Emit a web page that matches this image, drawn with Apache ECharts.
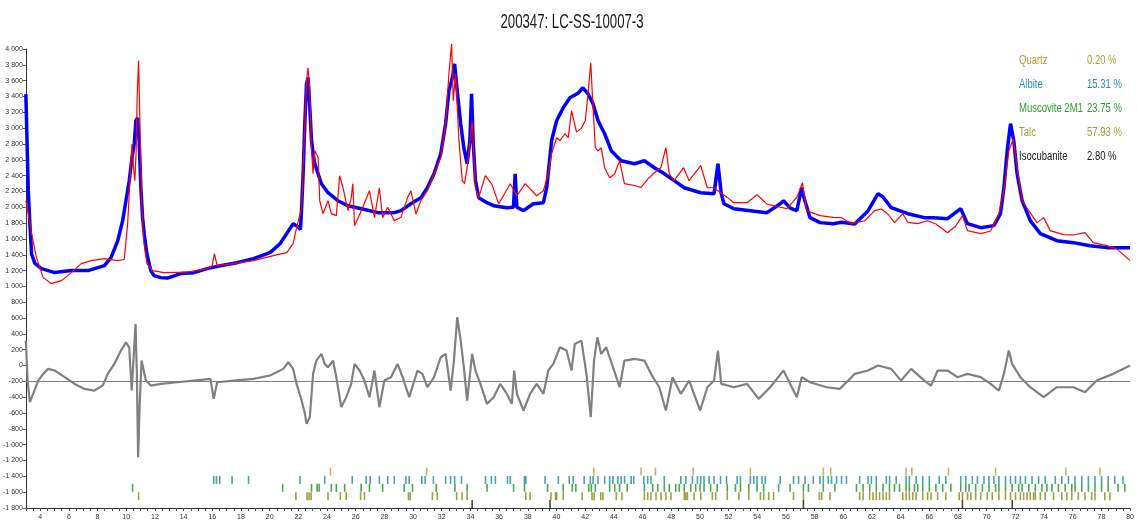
<!DOCTYPE html>
<html>
<head>
<meta charset="utf-8">
<script src="https://cdn.jsdelivr.net/npm/echarts@6/dist/echarts.min.js"></script>
<style>
  html, body { margin: 0; padding: 0; background: #fff; }
  #chart { width: 1137px; height: 526px; }
</style>
</head>
<body>
<div id="chart"></div>
<script>
// Rietveld refinement plot, sample 200347 (Co radiation), pairs of [2θ, counts]

// observed pattern
const observed = [
  [3.00,3430],[3.17,2210],[3.28,1790],[3.40,1410],[3.63,1290],[4.09,1225],[5.01,1175],[6.17,1200],
  [7.33,1200],[8.48,1262],[8.94,1364],[9.41,1578],[9.75,1831],[9.98,2083],[10.21,2336],[10.40,2626],
  [10.56,2803],[10.67,3093],[10.79,3131],[10.90,2840],[11.02,2247],[11.14,1869],[11.25,1667],[11.44,1414],
  [11.71,1200],[11.94,1136],[12.41,1111],[12.87,1105],[13.79,1162],[14.71,1174],[15.64,1225],[16.56,1262],
  [17.72,1300],[18.87,1351],[20.03,1427],[20.72,1540],[21.19,1667],[21.64,1793],[21.99,1750],[22.15,1720],
  [22.23,1995],[22.34,2450],[22.45,3050],[22.57,3560],[22.68,3640],[22.80,3260],[22.92,2840],[23.03,2680],
  [23.15,2550],[23.38,2424],[23.61,2298],[24.07,2184],[24.76,2083],[25.46,2020],[26.39,1982],[27.54,1932],
  [28.69,1932],[29.16,1957],[29.85,2045],[30.54,2121],[31.00,2247],[31.46,2424],[31.93,2677],[32.27,3056],
  [32.50,3472],[32.74,3636],[32.90,3813],[33.08,3472],[33.32,3056],[33.54,2753],[33.77,2550],[33.96,2840],
  [34.08,3434],[34.19,2840],[34.35,2336],[34.58,2121],[35.15,2058],[35.62,2020],[36.54,1995],[37.00,2000],
  [37.12,2424],[37.24,2000],[37.70,1957],[38.39,2045],[39.09,2058],[39.32,2247],[39.66,2840],[40.01,3093],
  [40.47,3258],[40.94,3384],[41.50,3440],[41.84,3510],[42.20,3434],[42.55,3308],[42.90,3093],[43.36,2929],
  [43.82,2715],[44.51,2588],[45.44,2550],[46.13,2588],[46.83,2500],[47.52,2424],[48.21,2336],[48.91,2247],
  [50.06,2184],[50.99,2172],[51.26,2550],[51.49,2172],[51.68,2045],[52.37,1982],[53.52,1957],[54.68,1932],
  [55.60,2045],[55.83,2083],[56.30,1990],[56.76,1957],[57.10,2247],[57.26,2120],[57.68,1869],[58.38,1806],
  [59.30,1793],[59.88,1810],[60.80,1790],[61.73,1957],[62.42,2172],[62.77,2130],[63.34,1995],[64.50,1919],
  [65.65,1869],[66.35,1869],[67.27,1856],[68.19,1982],[68.66,1793],[69.58,1742],[70.50,1768],[70.96,1919],
  [71.20,2247],[71.43,2715],[71.66,3056],[71.89,2840],[72.12,2424],[72.47,2083],[73.04,1831],[73.74,1667],
  [74.89,1578],[76.05,1553],[77.20,1515],[78.36,1490],[80.00,1490]
];

// calculated pattern
const calculated = [
  [3.00,2083],[3.17,1919],[3.40,1667],[3.74,1364],[4.21,1111],[4.78,1035],[5.48,1073],[6.17,1174],
  [6.86,1288],[7.56,1326],[8.48,1351],[9.41,1326],[9.86,1340],[10.10,1793],[10.28,2424],[10.40,2803],
  [10.51,2500],[10.60,2336],[10.69,2700],[10.76,3384],[10.86,3851],[10.95,3093],[11.07,2083],[11.21,1578],
  [11.44,1288],[11.83,1200],[12.63,1174],[14.26,1180],[15.64,1225],[15.99,1262],[16.15,1414],[16.34,1262],
  [17.49,1288],[18.87,1326],[20.26,1389],[21.19,1427],[21.64,1540],[21.88,1742],[22.23,1995],[22.41,2840],
  [22.57,3598],[22.68,3763],[22.80,3472],[22.92,2715],[23.03,2424],[23.15,2715],[23.38,2630],[23.49,2083],
  [23.72,1919],[24.07,2083],[24.30,1919],[24.65,1895],[24.88,2399],[25.11,2250],[25.46,1957],[25.69,2125],
  [25.80,2298],[25.92,1768],[26.39,1957],[26.96,2210],[27.31,1869],[27.65,2247],[27.88,1869],[28.23,1999],
  [28.69,1831],[29.16,1873],[29.62,2125],[29.85,2210],[30.20,1915],[30.54,2083],[31.00,2210],[31.46,2420],
  [31.93,2630],[32.27,3050],[32.50,3687],[32.69,4066],[32.80,3346],[32.97,3687],[33.20,2840],[33.43,2336],
  [33.59,2298],[33.77,2500],[34.12,3093],[34.35,2247],[34.58,2121],[35.04,2399],[35.50,2290],[35.97,2045],
  [36.78,2298],[37.24,2146],[37.82,2298],[38.62,2146],[39.09,2210],[39.43,2424],[39.66,2677],[40.01,2879],
  [40.24,2841],[40.59,2929],[40.82,2879],[41.05,3220],[41.40,2950],[41.74,3000],[42.01,3093],[42.20,3430],
  [42.39,3826],[42.55,3262],[42.71,2753],[42.90,2710],[43.12,2753],[43.36,2500],[43.71,2374],[44.05,2420],
  [44.40,2588],[44.74,2298],[45.44,2275],[45.90,2250],[46.36,2356],[46.83,2437],[47.28,2500],[47.63,2753],
  [47.87,2420],[48.21,2336],[48.86,2500],[49.25,2336],[50.06,2525],[50.52,2247],[50.99,2247],[51.44,2184],
  [51.91,2125],[52.37,2058],[53.29,2058],[53.99,2159],[54.68,2040],[55.37,2010],[56.07,1982],[56.76,2125],
  [57.15,2311],[57.45,1957],[58.38,1894],[59.30,1873],[59.88,1869],[60.57,1793],[61.49,1830],[62.18,1957],
  [62.65,1978],[63.11,1915],[63.57,1806],[64.15,1919],[64.50,1810],[65.19,1793],[65.88,1830],[66.46,1789],
  [67.27,1679],[67.84,1764],[68.31,1894],[68.66,1705],[69.58,1667],[70.27,1700],[70.85,1919],[71.20,2210],
  [71.54,2715],[71.85,2866],[72.12,2500],[72.47,2083],[72.93,1957],[73.51,1806],[73.97,1869],[74.43,1705],
  [75.35,1654],[76.05,1650],[76.85,1679],[77.43,1553],[78.36,1515],[79.05,1477],[80.00,1326]
];

// difference curve (offset below the patterns)
const difference = [
  [3.00,315],[3.12,-190],[3.28,-463],[3.51,-358],[3.86,-190],[4.21,-105],[4.55,-42],[5.01,-63],
  [5.71,-147],[6.40,-232],[7.09,-295],[7.78,-316],[8.36,-253],[8.71,-105],[9.17,21],[9.63,189],
  [9.98,294],[10.21,231],[10.38,-316],[10.49,21],[10.65,526],[10.74,-105],[10.83,-1158],[10.93,-526],
  [11.07,63],[11.16,63],[11.37,-190],[11.71,-253],[12.41,-232],[13.56,-211],[14.71,-190],[15.87,-169],
  [16.10,-421],[16.34,-211],[17.49,-190],[18.87,-169],[20.03,-126],[20.95,-42],[21.30,42],[21.64,-42],
  [21.88,-232],[22.23,-442],[22.45,-600],[22.57,-737],[22.80,-653],[23.03,-105],[23.26,63],[23.61,147],
  [23.84,21],[24.07,-21],[24.42,63],[24.65,-147],[24.99,-526],[25.34,-400],[25.69,-232],[25.92,21],
  [26.27,-63],[26.61,-190],[26.96,-400],[27.31,-63],[27.65,-526],[28.00,-190],[28.46,-147],[28.92,21],
  [29.27,-147],[29.73,-400],[30.31,-63],[30.65,-105],[31.00,-274],[31.46,-147],[31.93,105],[32.27,147],
  [32.62,-316],[32.85,63],[33.08,610],[33.32,315],[33.54,-21],[33.77,-442],[34.12,147],[34.35,-63],
  [34.70,-232],[35.15,-484],[35.62,-400],[36.08,-232],[36.54,-358],[36.89,-484],[37.05,-63],[37.24,-358],
  [37.70,-568],[38.16,-358],[38.62,-232],[39.09,-358],[39.43,-63],[39.78,21],[40.24,231],[40.70,189],
  [41.05,-63],[41.28,273],[41.74,315],[42.09,-105],[42.39,-653],[42.62,63],[42.85,357],[43.12,147],
  [43.47,231],[43.94,-21],[44.40,-274],[44.74,63],[45.44,84],[46.13,63],[46.59,-105],[47.17,-274],
  [47.63,-568],[48.10,-147],[48.67,-358],[49.25,-190],[50.02,-568],[50.52,-274],[50.99,-190],[51.26,189],
  [51.49,-232],[52.37,-274],[53.29,-232],[54.10,-421],[54.90,-274],[55.83,-63],[56.76,-400],[57.10,-147],
  [57.68,-211],[58.84,-274],[59.76,-295],[60.57,-147],[60.80,-105],[61.73,-63],[62.42,0],[63.34,-42],
  [64.03,-190],[64.73,-42],[65.65,-190],[66.12,-253],[66.58,-63],[67.27,-63],[67.96,-147],[68.66,-105],
  [69.58,-147],[70.27,-232],[70.85,-316],[71.20,-105],[71.54,189],[71.77,21],[72.35,-147],[73.04,-274],
  [73.97,-400],[74.89,-274],[76.05,-274],[76.85,-337],[77.67,-190],[78.82,-105],[80.00,0]
];

// reflection positions (2θ) for each phase
const quartzPeaks = [24.24,30.95,42.60,45.90,46.90,49.53,53.52,58.61,59.12,64.38,64.78,67.34,70.62,75.52,77.89];
const albitePeaks = [16.10,16.29,16.52,17.38,18.53,22.11,23.84,25.76,26.73,27.01,27.65,28.23,28.69,29.50,29.73,
  30.61,30.84,31.42,32.27,32.62,32.90,33.38,35.05,35.46,35.74,36.59,36.78,37.77,37.86,39.20,40.13,40.89,41.17,
  41.93,42.36,42.55,42.90,43.36,43.71,43.94,44.28,44.51,44.75,45.21,45.39,46.09,46.36,46.59,47.52,48.67,49.02,
  49.48,49.83,50.06,50.29,50.64,50.99,51.44,51.86,52.60,52.83,53.52,53.76,53.99,54.33,54.56,55.60,56.53,56.88,
  57.33,57.91,58.37,58.61,58.95,59.18,59.53,59.88,60.22,61.14,61.73,61.96,62.30,63.00,63.23,63.69,64.38,64.61,
  65.08,65.54,66.00,66.69,67.15,68.19,68.54,69.00,69.35,69.81,70.16,70.50,70.85,71.31,71.66,72.01,72.35,72.70,
  73.16,73.62,74.08,74.78,75.24,75.70,76.16,76.63,77.09,77.55,78.01,78.47,78.93,79.51];
const muscovitePeaks = [10.44,20.91,22.92,23.31,23.45,24.30,24.65,25.23,26.38,26.96,27.88,29.38,29.96,31.62,32.92,
  33.77,35.16,37.01,37.77,39.38,40.47,41.10,41.35,42.25,42.43,42.71,43.71,44.06,44.40,44.93,46.13,46.71,47.06,
  47.52,47.87,48.32,48.56,48.91,49.36,49.71,50.01,50.29,50.75,51.21,51.91,52.48,52.83,53.41,53.99,54.45,55.49,
  56.29,57.22,57.57,58.61,59.41,60.92,61.38,61.84,62.30,62.77,63.22,63.57,63.92,64.38,64.61,64.96,65.19,65.54,
  66.00,66.46,66.93,67.50,68.19,68.54,68.77,69.23,69.70,70.16,70.62,70.85,71.31,71.78,72.23,72.47,72.93,73.39,
  73.85,74.20,74.55,75.00,75.47,75.93,76.16,76.63,77.09,77.55,78.01,78.47,79.16,79.63];
const talcPeaks = [10.86,21.83,22.61,22.75,22.89,24.07,24.93,25.34,26.34,26.61,29.68,29.80,31.35,31.69,33.04,33.42,
  33.77,37.86,38.16,39.62,39.94,40.01,40.47,41.79,42.48,42.62,43.09,43.24,44.17,44.56,46.13,46.36,46.59,46.94,
  47.29,47.63,47.98,48.91,49.02,49.13,49.60,50.06,50.87,51.10,51.91,52.72,53.41,54.22,54.45,54.80,55.14,56.53,
  57.22,58.33,58.49,59.07,61.14,61.38,61.84,62.07,62.30,62.53,62.77,63.00,63.22,64.15,64.38,64.61,64.84,65.08,
  65.54,65.88,66.12,66.58,67.15,68.08,68.31,68.66,68.89,69.23,69.58,70.04,70.39,70.85,71.31,71.66,72.01,72.35,
  72.58,72.81,73.04,73.27,73.39,73.74,74.08,74.66,75.24,75.59,75.93,76.39,76.85,77.32,77.55,78.24,78.59];
const isocubanitePeaks = [34.12,39.55,57.22,68.31,71.78];

// phase table shown top right
const phaseNames = ['Quartz', 'Albite', 'Muscovite 2M1', 'Talc', 'Isocubanite'];
const phasePercents = ['0.20 %', '15.31 %', '23.75 %', '57.93 %', '2.80 %'];

// axis tick labels
const xLabels = [4,6,8,10,12,14,16,18,20,22,24,26,28,30,32,34,36,38,40,42,44,46,48,50,52,54,56,58,60,62,64,66,68,70,72,74,76,78,80];

const phaseColors = ['#b3a244', '#17908f', '#1f901f', '#8a8614', '#1a1a1a'];
const labelColors = ['#b39d35', '#2b8db3', '#2f9a2f', '#a69c38', '#1a1a1a'];
const rowLevels = [-1340, -1445, -1545, -1650, -1755];
const phasePeaks = [quartzPeaks, albitePeaks, muscovitePeaks, talcPeaks, isocubanitePeaks];

const minorTicks = [];
for (let t = 3; t <= 80.001; t += 0.5) minorTicks.push(+t.toFixed(1));

const FONT = "'Liberation Sans', Arial, sans-serif";

function fmtY(v) {
  const a = Math.abs(v);
  const s = v < 0 ? '-' : '';
  if (a >= 1000) {
    const r = String(a % 1000).padStart(3, '0');
    return s + Math.floor(a / 1000) + ' ' + r;
  }
  return s + a;
}

const tickSeries = phasePeaks.map((peaks, i) => ({
  type: 'scatter',
  name: phaseNames[i],
  data: peaks.map(p => [p, rowLevels[i]]),
  symbol: 'rect',
  symbolSize: [1.6, i === 4 ? 9 : 8],
  itemStyle: { color: phaseColors[i] },
  silent: true,
  z: 3
}));

const chart = echarts.init(document.getElementById('chart'), null, { renderer: 'canvas' });

// title and phase table, squeezed horizontally for a condensed look
const textGraphics = [{
  type: 'text', x: 572, y: 22, scaleX: 0.66,
  style: { text: '200347: LC-SS-10007-3', fill: '#1a1a1a', font: '20px ' + FONT,
           align: 'center', verticalAlign: 'middle' }
}];
phaseNames.forEach((n, i) => {
  const y = 60 + i * 24;
  textGraphics.push({
    type: 'text', x: 1019, y: y, scaleX: 0.73,
    style: { text: n, fill: labelColors[i], font: '13px ' + FONT, verticalAlign: 'middle' }
  });
  textGraphics.push({
    type: 'text', x: 1087, y: y, scaleX: 0.73,
    style: { text: phasePercents[i], fill: labelColors[i], font: '13px ' + FONT, verticalAlign: 'middle' }
  });
});

chart.setOption({
  animation: false,
  backgroundColor: '#ffffff',
  grid: { left: 24, right: 2, top: 49, bottom: 18 },
  xAxis: {
    type: 'value',
    min: 3,
    max: 80,
    axisLine: { onZero: false, lineStyle: { color: '#333', width: 1 } },
    axisTick: { length: 3, customValues: minorTicks, lineStyle: { color: '#555' } },
    axisLabel: { customValues: xLabels, fontSize: 7, fontFamily: FONT, color: '#333', margin: 6 },
    splitLine: { show: false }
  },
  yAxis: {
    type: 'value',
    min: -1800,
    max: 4000,
    interval: 200,
    axisLine: { show: true, lineStyle: { color: '#333', width: 1 } },
    axisTick: { show: true, length: 3, lineStyle: { color: '#555' } },
    axisLabel: { fontSize: 7, fontFamily: FONT, color: '#333', margin: 3, formatter: fmtY },
    splitLine: { show: false }
  },
  graphic: textGraphics,
  series: [
    {
      type: 'line', name: 'Observed', data: observed, showSymbol: false,
      lineStyle: { color: '#0000ff', width: 3.5 }, z: 4, clip: false
    },
    {
      type: 'line', name: 'Calculated', data: calculated, showSymbol: false,
      lineStyle: { color: '#ff0000', width: 1.2 }, z: 5, clip: false
    },
    {
      type: 'line', name: 'Difference', data: difference, showSymbol: false,
      lineStyle: { color: '#808080', width: 2.2 }, z: 4,
      markLine: {
        silent: true, symbol: 'none', label: { show: false },
        lineStyle: { color: '#808080', width: 1, type: 'solid' },
        data: [{ yAxis: -200 }]
      }
    }
  ].concat(tickSeries)
});
</script>
</body>
</html>
